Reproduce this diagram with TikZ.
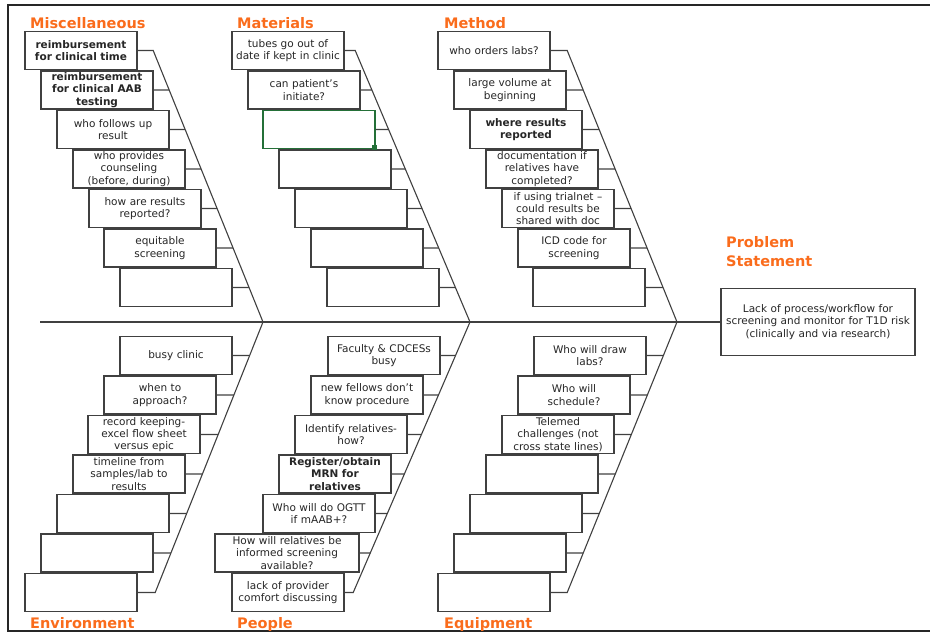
\documentclass[tikz,border=0pt]{standalone}
\usepackage{fontspec}
\setmainfont{DejaVu Sans}
\usepackage{xcolor}
\definecolor{fishorange}{RGB}{250,108,28}
\definecolor{boxgray}{RGB}{64,64,64}
\definecolor{selgreen}{RGB}{36,112,56}
\newcommand{\boxfont}{\fontsize{10.5}{12.3}\selectfont}
\newcommand{\catfont}{\fontsize{14.5}{19}\selectfont\bfseries}

\begin{document}
\begin{tikzpicture}[
    x=1pt, y=1pt,
    cause/.style={draw=boxgray, line width=1.1pt, fill=white, text=black!85,
        minimum width=112pt, minimum height=38pt, text width=108pt,
        inner xsep=2pt, inner ysep=1pt, align=center, font=\boxfont},
    causeb/.style={cause, font=\boxfont\bfseries},
    causewide/.style={cause, minimum width=144pt, text width=140pt},
    causesel/.style={cause, draw=selgreen},
    bone/.style={draw=boxgray, line width=1.1pt},
    cat/.style={anchor=base west, inner sep=0pt, text=fishorange, font=\catfont},
]
    \useasboundingbox (0,0) rectangle (930,-632);
    % frame
    \draw[line width=2.2pt, black!85] (930,-4.8) -- (8.3,-4.8) -- (8.3,-630.8) -- (930,-630.8);

    % Miscellaneous
    \node[cat] (tmisc) at (30,-28) {Miscellaneous};
    \node[causeb] (mi1) at (81,-50.5) {reimbursement\\for clinical time};
    \node[causeb] (mi2) at (97,-90) {reimbursement\\for clinical AAB\\testing};
    \node[cause] (mi3) at (113,-129.5) {who follows up\\result};
    \node[cause] (mi4) at (129,-169) {who provides\\counseling\\(before, during)};
    \node[cause] (mi5) at (145,-208.5) {how are results\\reported?};
    \node[cause] (mi6) at (160,-248) {equitable\\screening};
    \node[cause] (mi7) at (176,-287.5) {};

    % Materials
    \node[cat] (tmat) at (237,-28) {Materials};
    \node[cause] (ma1) at (288,-50.5) {tubes go out of\\date if kept in clinic};
    \node[cause] (ma2) at (304,-90) {can patient's\\initiate?};
    \node[causesel] (ma3) at (319,-129.5) {};
    \node[cause] (ma4) at (335,-169) {};
    \node[cause] (ma5) at (351,-208.5) {};
    \node[cause] (ma6) at (367,-248) {};
    \node[cause] (ma7) at (383,-287.5) {};
    \node[fill=selgreen, minimum size=5pt, inner sep=0pt] (mahandle) at ([xshift=-1pt,yshift=2pt]ma3.south east) {};

    % Method
    \node[cat] (tmet) at (444,-28) {Method};
    \node[cause] (me1) at (494,-50.5) {who orders labs?};
    \node[cause] (me2) at (510,-90) {large volume at\\beginning};
    \node[causeb] (me3) at (526,-129.5) {where results\\reported};
    \node[cause] (me4) at (542,-169) {documentation if\\relatives have\\completed?};
    \node[cause] (me5) at (558,-208.5) {if using trialnet --\\could results be\\shared with doc};
    \node[cause] (me6) at (574,-248) {ICD code for\\screening};
    \node[cause] (me7) at (589,-287.5) {};

    % Environment
    \node[cat] (tenv) at (30,-628) {Environment};
    \node[cause] (en1) at (176,-355.5) {busy clinic};
    \node[cause] (en2) at (160,-395) {when to\\approach?};
    \node[cause] (en3) at (144,-434.5) {record keeping-\\excel flow sheet\\versus epic};
    \node[cause] (en4) at (129,-474) {timeline from\\samples/lab to\\results};
    \node[cause] (en5) at (113,-513.5) {};
    \node[cause] (en6) at (97,-553) {};
    \node[cause] (en7) at (81,-592.5) {};

    % People
    \node[cat] (tpeo) at (237,-628) {People};
    \node[cause] (pe1) at (384,-355.5) {Faculty \& CDCESs\\busy};
    \node[cause] (pe2) at (367,-395) {new fellows don't\\know procedure};
    \node[cause] (pe3) at (351,-434.5) {Identify relatives-\\how?};
    \node[causeb] (pe4) at (335,-474) {Register/obtain\\MRN for\\relatives};
    \node[cause] (pe5) at (319,-513.5) {Who will do OGTT\\if mAAB+?};
    \node[causewide] (pe6) at (287,-553) {How will relatives be\\informed screening\\available?};
    \node[cause] (pe7) at (288,-592.5) {lack of provider\\comfort discussing};

    % Equipment
    \node[cat] (tequ) at (444,-628) {Equipment};
    \node[cause] (eq1) at (590,-355.5) {Who will draw\\labs?};
    \node[cause] (eq2) at (574,-395) {Who will\\schedule?};
    \node[cause] (eq3) at (558,-434.5) {Telemed\\challenges (not\\cross state lines)};
    \node[cause] (eq4) at (542,-474) {};
    \node[cause] (eq5) at (526,-513.5) {};
    \node[cause] (eq6) at (510,-553) {};
    \node[cause] (eq7) at (494,-592.5) {};

    % Problem statement
    \node[cat, anchor=north west, align=left] (tprob) at (726,-236) {Problem\\Statement};
    \node[cause, minimum width=194pt, text width=190pt, minimum height=67pt] (prob) at (818,-322)
        {Lack of process/workflow for\\screening and monitor for T1D risk\\(clinically and via research)};

    % spine and bones
    \coordinate (spine) at (40,-322);
    \draw[bone] (spine) -- (prob.west);
    \coordinate (mitop) at (153,-50);
    \coordinate (mitip) at (263,-322);
    \coordinate (enbot) at (155,-593);
    \coordinate (matop) at (355,-50);
    \coordinate (matip) at (470,-322);
    \coordinate (pebot) at (353,-593);
    \coordinate (metop) at (567,-50);
    \coordinate (metip) at (677,-322);
    \coordinate (eqbot) at (567,-593);
    \draw[bone] (mitop) -- (mitip) -- (enbot);
    \draw[bone] (matop) -- (matip) -- (pebot);
    \draw[bone] (metop) -- (metip) -- (eqbot);

    % connectors
    \foreach \i in {1,...,7} {
        \draw[bone] (mi\i.east) -- (intersection of mi\i.west--mi\i.east and mitop--mitip);
        \draw[bone] (ma\i.east) -- (intersection of ma\i.west--ma\i.east and matop--matip);
        \draw[bone] (me\i.east) -- (intersection of me\i.west--me\i.east and metop--metip);
        \draw[bone] (en\i.east) -- (intersection of en\i.west--en\i.east and mitip--enbot);
        \draw[bone] (pe\i.east) -- (intersection of pe\i.west--pe\i.east and matip--pebot);
        \draw[bone] (eq\i.east) -- (intersection of eq\i.west--eq\i.east and metip--eqbot);
    }
\end{tikzpicture}
\end{document}
